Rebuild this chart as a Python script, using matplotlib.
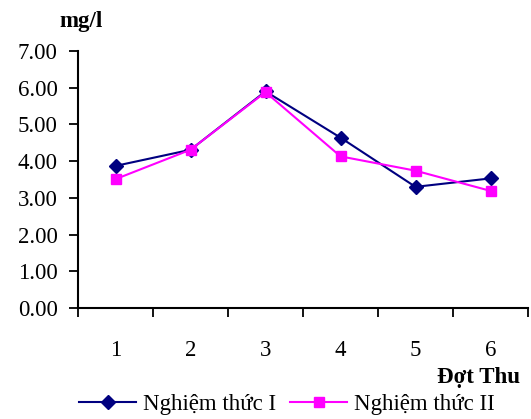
import matplotlib
matplotlib.use('Agg')
import matplotlib.pyplot as plt

# values (mg/l per sampling round)
rounds = [1, 2, 3, 4, 5, 6]
nt1 = [3.87, 4.31, 5.90, 4.64, 3.30, 3.53]
nt2 = [3.51, 4.31, 5.88, 4.13, 3.74, 3.19]
yticks = [0, 1, 2, 3, 4, 5, 6, 7]

plt.rcParams['font.family'] = ['Liberation Serif', 'DejaVu Serif']
fs = 16.5

fig = plt.figure(figsize=(5.31, 4.19), dpi=100)
ax = fig.add_axes([78/531, (419-308)/419, (528-78)/531, (308-51)/419])

ax.plot(rounds, nt1, color='#000080', marker='D', markersize=7.5, linewidth=1.5, label='Nghiệm thức I')
ax.plot(rounds, nt2, color='#FF00FF', marker='s', markersize=7.5, linewidth=1.5, label='Nghiệm thức II')

ax.set_xlim(0.5, 6.5)
ax.set_ylim(0, 7)
ax.set_yticks(yticks)
ax.set_yticklabels([f'{v:.2f}' for v in yticks], fontsize=fs)

# category ticks between the labels, labels centered without ticks
ax.set_xticks([r - 0.5 for r in rounds] + [6.5])
ax.set_xticklabels([])
ax.set_xticks(rounds, minor=True)
ax.set_xticklabels([str(r) for r in rounds], minor=True, fontsize=fs)
ax.tick_params(axis='x', which='minor', length=0, pad=23)
ax.tick_params(axis='x', which='major', length=6.5, width=1.3, direction='out')
ax.tick_params(axis='y', length=6.5, width=1.3, direction='out', pad=8)

for s in ['top', 'right']:
    ax.spines[s].set_visible(False)
for s in ['left', 'bottom']:
    ax.spines[s].set_linewidth(1.5)

fig.text(59/531, 1 - 21/419, 'mg/l', fontsize=fs, fontweight='bold', va='center', ha='left')
fig.text(520/531, 1 - 377/419, 'Đợt Thu', fontsize=fs, fontweight='bold', va='center', ha='right')

fig.legend(loc='center', bbox_to_anchor=(287/531, 1 - 404/419), ncol=2, frameon=False,
           fontsize=fs, handlelength=2.5, columnspacing=0.6, handletextpad=0.3)

fig.savefig('out.png', dpi=100)
